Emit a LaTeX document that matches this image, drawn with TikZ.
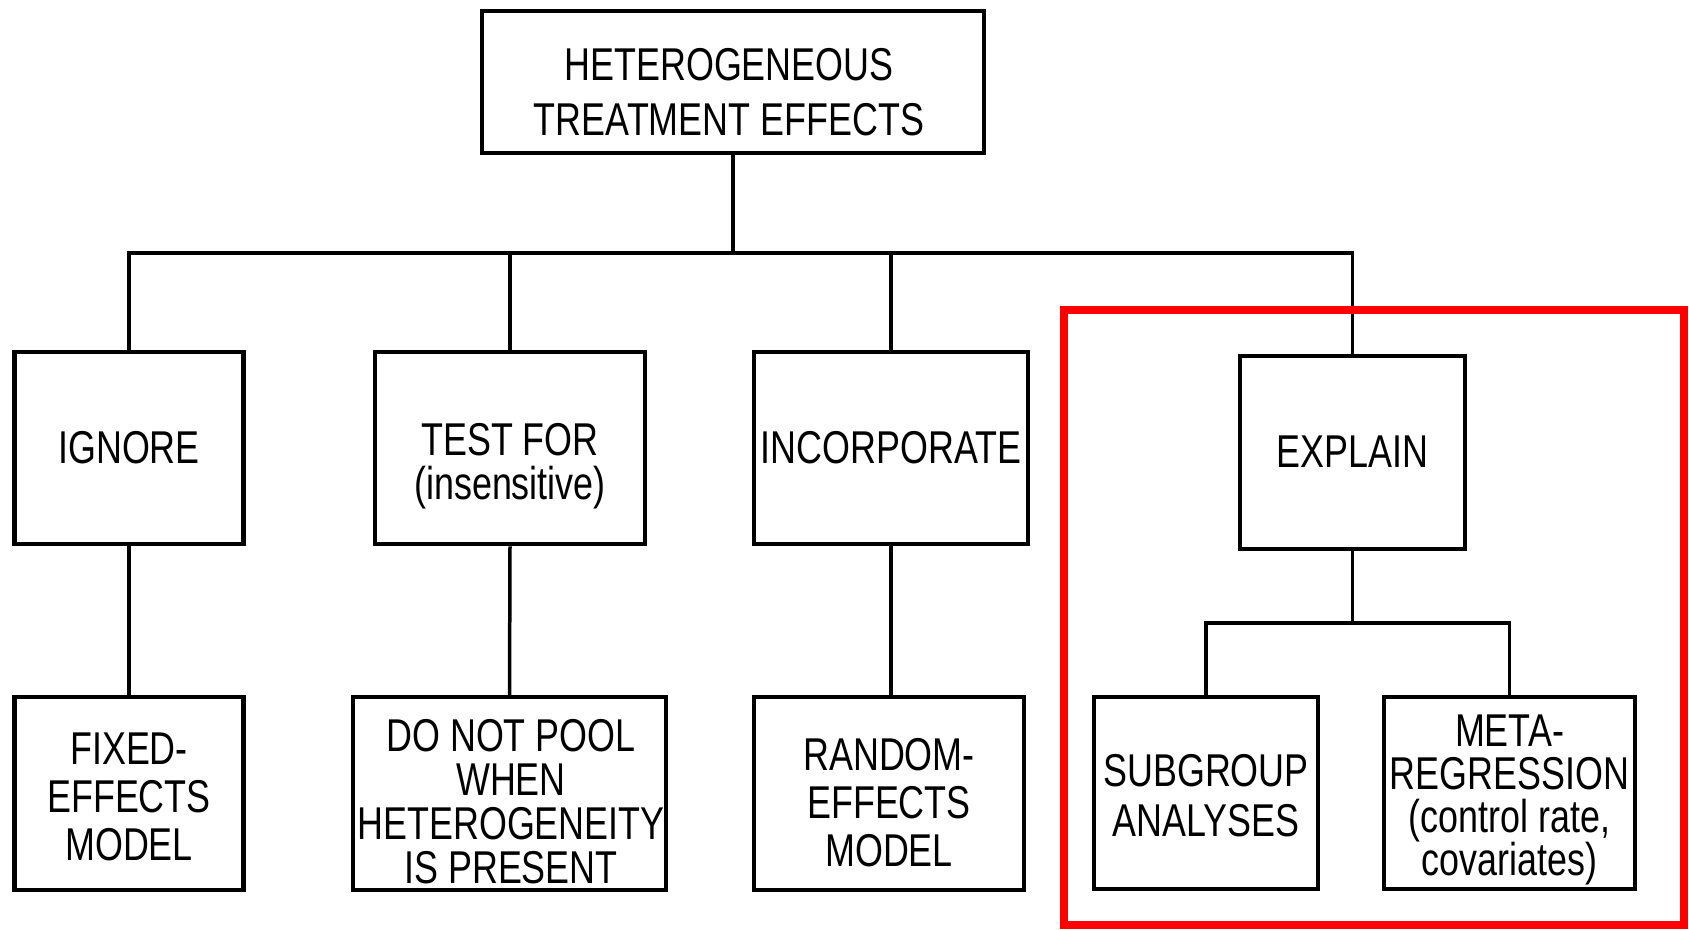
\documentclass[tikz,border=0pt]{standalone}
\usepackage{fontspec}
\setmainfont{Liberation Sans}[FakeStretch=0.78]
\begin{document}
\begin{tikzpicture}[x=1pt,y=-1pt,
  box/.style={draw=black, line width=4.5pt, inner sep=0pt, anchor=center},
  txt/.style={inner sep=0pt, align=center, anchor=center,
              font=\fontsize{46}{45}\selectfont},
  link/.style={draw=black, line width=3.5pt},
  frame/.style={draw=red, line width=8pt}]
\useasboundingbox (0,0) rectangle (1689,929);
\fill[white] (0,0) rectangle (1689,929);

% root
\node[box, minimum width=502pt, minimum height=142pt] (root) at (733,82) {};
\node[txt, font=\fontsize{46}{55}\selectfont] (rootlabel) at (729,92)
  {HETEROGENEOUS\\TREATMENT EFFECTS};

% approaches
\node[box, minimum width=229pt, minimum height=192pt] (ignore) at (129,448) {};
\node[txt] (ignorelabel) at (129,448) {IGNORE};
\node[box, minimum width=270pt, minimum height=192pt] (test) at (510,448) {};
\node[txt, font=\fontsize{46}{44}\selectfont] (testlabel) at (510,466)
  {TEST FOR\\(insensitive)};
\node[box, minimum width=274pt, minimum height=192pt] (incorp) at (891,448) {};
\node[txt] (incorplabel) at (891,448) {INCORPORATE};
\node[box, minimum width=225pt, minimum height=193pt] (explain) at (1352.5,452.5) {};
\node[txt] (explainlabel) at (1352.5,452) {EXPLAIN};

% consequences
\node[box, minimum width=229pt, minimum height=193pt] (fixed) at (129,793.5) {};
\node[txt, font=\fontsize{46}{48}\selectfont] (fixedlabel) at (129,797)
  {FIXED-\\EFFECTS\\MODEL};
\node[box, minimum width=313pt, minimum height=193pt] (nopool) at (509.5,793.5) {};
\node[txt, font=\fontsize{46}{44}\selectfont] (nopoollabel) at (511,802)
  {DO NOT POOL\\WHEN\\HETEROGENEITY\\IS PRESENT};
\node[box, minimum width=270pt, minimum height=193pt] (random) at (889,793.5) {};
\node[txt, font=\fontsize{46}{48}\selectfont] (randomlabel) at (889,803)
  {RANDOM-\\EFFECTS\\MODEL};
\node[box, minimum width=224pt, minimum height=192pt] (subgroup) at (1206,793) {};
\node[txt, font=\fontsize{46}{50}\selectfont] (subgrouplabel) at (1206,796)
  {SUBGROUP\\ANALYSES};
\node[box, minimum width=251pt, minimum height=192pt] (meta) at (1509.5,793) {};
\node[txt, font=\fontsize{46}{43}\selectfont] (metalabel) at (1509.5,800)
  {META-\\REGRESSION\\(control rate,\\covariates)};

% connectors
\coordinate (bus) at (731,253);
\coordinate (subbus) at (1353,623);
\draw[link] (root.south) -- (root.south |- bus) -| (ignore.north);
\draw[link] (root.south |- bus) -| (test.north);
\draw[link] (root.south |- bus) -| (incorp.north);
\draw[link] (root.south |- bus) -| (explain.north);
\draw[link] (ignore.south) -- (fixed.north);
\draw[link] (test.south) -- (nopool.north);
\draw[link] (incorp.south) -- (incorp.south |- random.north);
\draw[link] (explain.south) -- (explain.south |- subbus) -| (subgroup.north);
\draw[link] (explain.south |- subbus) -| (meta.north);

% highlight frame
\draw[frame] (1064,310) rectangle (1684,925);
\end{tikzpicture}
\end{document}
